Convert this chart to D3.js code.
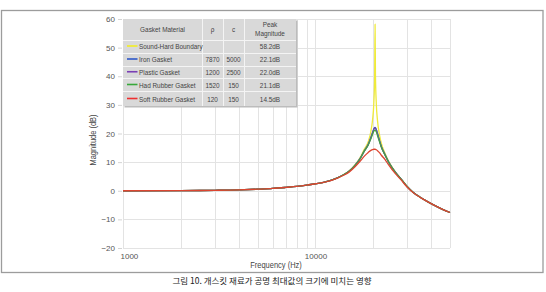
<!DOCTYPE html>
<html>
<head>
<meta charset="utf-8">
<script src="https://cdn.jsdelivr.net/npm/d3@7"></script>
<style>
  body { margin: 0; background: #fff; }
  svg { display: block; }
  text { font-family: "Liberation Sans", sans-serif; fill: #444; }
</style>
</head>
<body>
<script>
'use strict';

// frequencies (Hz) shared by every series
const freq = [1000, 2000, 3000, 4000, 5000, 6000, 7000, 8000, 9000, 10000, 11000, 12000, 13000, 14000,
  15000, 16000, 17000, 18000, 18800, 19400, 19800, 20100, 20300, 20400, 20500, 20700, 21000, 21500,
  22000, 23000, 24000, 25000, 26000, 28000, 30000, 32000, 35000, 38000, 42000, 46000, 50000];

// magnitude (dB)
const soundHard = [0, 0.05, 0.15, 0.3, 0.55, 0.8, 1.15, 1.5, 1.95, 2.45, 2.9, 3.6, 4.5, 5.65,
  7.0, 8.95, 11.4, 14.7, 17.1, 20.7, 24.8, 30.7, 40.2, 58.2, 40.2, 30.6, 24.6, 19.6,
  16.5, 13.0, 10.25, 8.25, 6.6, 3.95, 1.45, -0.4, -2.25, -3.7, -5.3, -6.6, -7.6];
const iron = [0, 0.05, 0.15, 0.3, 0.55, 0.8, 1.15, 1.5, 1.95, 2.45, 2.9, 3.6, 4.5, 5.6,
  6.9, 8.8, 11.1, 14.1, 16.2, 18.6, 20.4, 21.6, 22.05, 22.1, 22.0, 21.4, 20.0, 17.6,
  15.4, 12.55, 10.0, 8.1, 6.5, 3.9, 1.4, -0.4, -2.25, -3.7, -5.3, -6.6, -7.6];
const plastic = [0, 0.05, 0.15, 0.3, 0.55, 0.8, 1.15, 1.5, 1.95, 2.45, 2.9, 3.6, 4.5, 5.6,
  6.9, 8.8, 11.05, 14.05, 16.15, 18.5, 20.3, 21.5, 21.95, 22.0, 21.9, 21.3, 19.9, 17.5,
  15.35, 12.5, 10.0, 8.1, 6.5, 3.9, 1.4, -0.4, -2.25, -3.7, -5.3, -6.6, -7.6];
const hardRubber = [0, 0.05, 0.15, 0.3, 0.55, 0.8, 1.15, 1.5, 1.95, 2.45, 2.9, 3.6, 4.5, 5.6,
  6.9, 8.75, 11.0, 14.0, 16.0, 18.2, 19.7, 20.8, 21.1, 21.1, 21.0, 20.6, 19.3, 17.2,
  15.2, 12.45, 9.95, 8.05, 6.45, 3.9, 1.4, -0.4, -2.25, -3.7, -5.3, -6.6, -7.6];
const softRubber = [0, 0.05, 0.15, 0.3, 0.55, 0.8, 1.15, 1.5, 1.95, 2.45, 2.9, 3.5, 4.4, 5.4,
  6.6, 8.3, 10.2, 12.2, 13.4, 14.1, 14.4, 14.5, 14.5, 14.5, 14.45, 14.3, 14.0, 13.3,
  12.4, 10.9, 9.0, 7.4, 6.0, 3.6, 1.2, -0.5, -2.3, -3.7, -5.3, -6.6, -7.6];

// table / legend contents
const materials = ["Sound-Hard Boundary", "Iron Gasket", "Plastic Gasket", "Had Rubber Gasket", "Soft Rubber Gasket"];
const rhoVals = ["", "7870", "1200", "1520", "120"];
const cVals = ["", "5000", "2500", "150", "150"];
const peakVals = ["58.2dB", "22.1dB", "22.0dB", "21.1dB", "14.5dB"];
const seriesVals = [soundHard, iron, plastic, hardRubber, softRubber];
const lineColors = ["#efea3a", "#3b5cc4", "#6d4aa8", "#47a043", "#dc4530"];
const legendColors = ["#f3ee22", "#2f58c8", "#7a3fb4", "#38a83a", "#ee3030"];

const yTicks = [-20, -10, 0, 10, 20, 30, 40, 50, 60];
const xGrid = [1000, 2000, 3000, 4000, 5000, 6000, 7000, 8000, 9000, 10000, 20000, 30000, 40000, 50000];
const xLabels = [1000, 10000];

const W = 546, H = 292;
const plot = {left: 123, right: 450, top: 19, bottom: 248};

// the source uses a condensed face, so squeeze the text horizontally
// (moves x/y into a transform so the scale happens round the anchor point)
function squeeze(sel, k) {
  sel.each(function() {
    const t = d3.select(this);
    const tx = +t.attr("x") || 0, ty = +t.attr("y") || 0;
    const prev = t.attr("transform") || "";
    t.attr("x", 0).attr("y", 0)
      .attr("transform", prev + " translate(" + tx + "," + ty + ") scale(" + k + ",1)");
  });
}

const svg = d3.select("body").append("svg")
  .attr("width", W)
  .attr("height", H);

// outer frame
svg.append("rect")
  .attr("x", 1.5).attr("y", 10.5)
  .attr("width", 541.5).attr("height", 262)
  .attr("fill", "none")
  .attr("stroke", "#9c9c9c")
  .attr("stroke-width", 1.3);

const x = d3.scaleLog().domain([1000, 50000]).range([plot.left, plot.right]);
const y = d3.scaleLinear().domain([-20, 60]).range([plot.bottom, plot.top]);

// grid
svg.append("g").selectAll("line")
  .data(xGrid).enter().append("line")
  .attr("x1", d => Math.round(x(d)) + 0.5).attr("x2", d => Math.round(x(d)) + 0.5)
  .attr("y1", plot.top).attr("y2", plot.bottom)
  .attr("stroke", "#e3e3e3");

svg.append("g").selectAll("line")
  .data(yTicks).enter().append("line")
  .attr("x1", plot.left).attr("x2", plot.right)
  .attr("y1", d => Math.round(y(d)) + 0.5).attr("y2", d => Math.round(y(d)) + 0.5)
  .attr("stroke", "#e3e3e3");

// y axis ticks + labels
const yAxis = d3.axisLeft(y)
  .tickValues(yTicks)
  .tickSize(4)
  .tickPadding(3)
  .tickFormat(d => d < 0 ? "\u2212" + Math.abs(d) : d);
const yg = svg.append("g")
  .attr("transform", "translate(" + (plot.left - 1) + ",0)")
  .call(yAxis);
yg.select(".domain").remove();
yg.selectAll("line").attr("stroke", "#d4d4d4");
yg.selectAll("text").style("font-size", "8px").style("fill", "#555");

// x axis labels
const xAxis = d3.axisBottom(x)
  .tickValues(xLabels)
  .tickSize(0)
  .tickPadding(5)
  .tickFormat(d3.format("d"));
const xg = svg.append("g")
  .attr("transform", "translate(0," + plot.bottom + ")")
  .call(xAxis);
xg.select(".domain").remove();
xg.selectAll("text").style("font-size", "8px").style("fill", "#555");
xg.selectAll("text").filter(d => d === 1000).attr("text-anchor", "start").attr("dx", -3);

// axis titles
const xTitle = svg.append("text")
  .attr("x", 276).attr("y", 268)
  .attr("text-anchor", "middle")
  .style("font-size", "8.5px")
  .text("Frequency (Hz)");
squeeze(xTitle, 0.88);

const yTitle = svg.append("text")
  .attr("transform", "translate(96,140)rotate(-90)")
  .attr("text-anchor", "middle")
  .style("font-size", "8.5px")
  .text("Magnitude (dB)");
squeeze(yTitle, 0.88);

// curves
const line = d3.line()
  .x((d, i) => x(freq[i]))
  .y(d => y(d))
  .curve(d3.curveMonotoneX);

svg.append("g").selectAll("path")
  .data(seriesVals).enter().append("path")
  .attr("d", line)
  .attr("fill", "none")
  .attr("stroke", (d, i) => lineColors[i])
  .attr("stroke-width", 1.3)
  .attr("stroke-linejoin", "round");

// table legend
const colX = [123, 202, 223, 244, 296];
const rowY = [19, 39.5, 52.5, 65.5, 78, 91, 106];
const tbl = svg.append("g");

tbl.append("rect")
  .attr("x", colX[0] + 1.5).attr("y", rowY[0] + 1.5)
  .attr("width", colX[4] - colX[0]).attr("height", rowY[6] - rowY[0])
  .attr("fill", "#bcbcbc");
tbl.append("rect")
  .attr("x", colX[0]).attr("y", rowY[0])
  .attr("width", colX[4] - colX[0]).attr("height", rowY[6] - rowY[0])
  .attr("fill", "#d9d9d9");

tbl.selectAll(".vl")
  .data(colX.slice(1, 4)).enter().append("line")
  .attr("x1", d => d + 0.5).attr("x2", d => d + 0.5)
  .attr("y1", rowY[0]).attr("y2", rowY[6])
  .attr("stroke", "#f4f4f4");
tbl.selectAll(".hl")
  .data(rowY.slice(1, 6)).enter().append("line")
  .attr("x1", colX[0]).attr("x2", colX[4])
  .attr("y1", d => Math.round(d) + 0.5).attr("y2", d => Math.round(d) + 0.5)
  .attr("stroke", "#f4f4f4");

const mid = (a, b) => (a + b) / 2;

tbl.append("text")
  .attr("x", mid(colX[0], colX[1])).attr("y", 32)
  .attr("text-anchor", "middle").style("font-size", "8px")
  .text("Gasket Material");
tbl.append("text")
  .attr("x", mid(colX[1], colX[2])).attr("y", 32)
  .attr("text-anchor", "middle").style("font-size", "8px")
  .text("\u03c1");
tbl.append("text")
  .attr("x", mid(colX[2], colX[3])).attr("y", 32)
  .attr("text-anchor", "middle").style("font-size", "8px")
  .text("c");
tbl.append("text")
  .attr("x", mid(colX[3], colX[4])).attr("y", 27)
  .attr("text-anchor", "middle").style("font-size", "8px")
  .text("Peak");
tbl.append("text")
  .attr("x", mid(colX[3], colX[4])).attr("y", 36)
  .attr("text-anchor", "middle").style("font-size", "8px")
  .text("Magnitude");

const rows = tbl.selectAll(".row")
  .data(materials).enter().append("g")
  .attr("transform", (d, i) => "translate(0," + mid(rowY[i + 1], rowY[i + 2]) + ")");

rows.append("line")
  .attr("x1", 127).attr("x2", 137.5)
  .attr("y1", 0).attr("y2", 0)
  .attr("stroke", (d, i) => legendColors[i])
  .attr("stroke-width", 1.6);
rows.append("text")
  .attr("x", 139).attr("y", 3)
  .style("font-size", "8px")
  .text(d => d);
rows.append("text")
  .attr("x", mid(colX[1], colX[2])).attr("y", 3)
  .attr("text-anchor", "middle").style("font-size", "8px")
  .text((d, i) => rhoVals[i]);
rows.append("text")
  .attr("x", mid(colX[2], colX[3])).attr("y", 3)
  .attr("text-anchor", "middle").style("font-size", "8px")
  .text((d, i) => cVals[i]);
rows.append("text")
  .attr("x", mid(colX[3], colX[4])).attr("y", 3)
  .attr("text-anchor", "middle").style("font-size", "8px")
  .text((d, i) => peakVals[i]);

squeeze(tbl.selectAll("text"), 0.8);

// caption
svg.append("text")
  .attr("x", 272).attr("y", 284)
  .attr("text-anchor", "middle")
  .style("font-family", "'Noto Sans CJK KR', sans-serif")
  .style("font-size", "8.5px")
  .style("fill", "#222")
  .text("그림 10. 개스킷 재료가 공명 최대값의 크기에 미치는 영향");
</script>
</body>
</html>
